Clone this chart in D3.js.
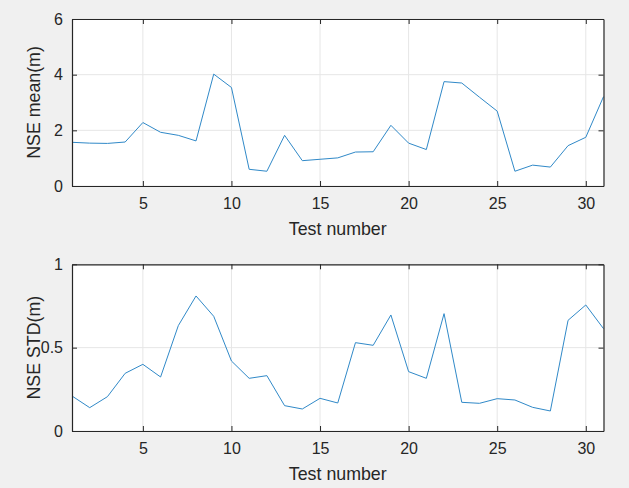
<!DOCTYPE html>
<html>
<head>
<meta charset="utf-8">
<script src="https://cdn.jsdelivr.net/npm/d3@7"></script>
<style>
  body { margin: 0; background: #f0f0f0; }
  svg { display: block; font-family: "Liberation Sans", Arial, sans-serif; }
</style>
</head>
<body>
<div id="chart"></div>
<script>
// Data
const testNumbers = d3.range(1, 32);
const nseMean = [1.57, 1.54, 1.53, 1.58, 2.28, 1.93, 1.82, 1.62, 4.02, 3.54,
                 0.60, 0.53, 1.82, 0.91, 0.96, 1.01, 1.22, 1.23, 2.18, 1.54,
                 1.31, 3.75, 3.70, 3.19, 2.69, 0.53, 0.75, 0.68, 1.45, 1.75, 3.21];
const nseStd = [0.21, 0.14, 0.206, 0.346, 0.40, 0.324, 0.632, 0.81, 0.688, 0.42,
                0.316, 0.332, 0.152, 0.132, 0.196, 0.168, 0.53, 0.514, 0.696, 0.356,
                0.316, 0.704, 0.172, 0.166, 0.194, 0.186, 0.142, 0.12, 0.664, 0.756, 0.614];
const xTicks = [5, 10, 15, 20, 25, 30];
const meanTicks = [0, 2, 4, 6];
const stdTicks = [0, 0.5, 1];

const width = 629;
const height = 488;

const svg = d3.select("#chart")
    .append("svg")
    .attr("width", width)
    .attr("height", height);

svg.append("rect")
    .attr("width", width)
    .attr("height", height)
    .attr("fill", "#f0f0f0");

// one subplot panel
function drawPanel(values, yDomain, yTicks, yLabel, top, bottom) {
    const left = 72, right = 603.5;

    const x = d3.scaleLinear().domain([1, 31]).range([left, right]);
    const y = d3.scaleLinear().domain(yDomain).range([bottom, top]);

    const g = svg.append("g");

    g.append("rect")
        .attr("x", left)
        .attr("y", top)
        .attr("width", right - left)
        .attr("height", bottom - top)
        .attr("fill", "#fff");

    // grid lines
    g.append("g")
        .selectAll("line")
        .data(xTicks)
        .enter().append("line")
        .attr("x1", d => x(d)).attr("x2", d => x(d))
        .attr("y1", top).attr("y2", bottom)
        .attr("stroke", "#e6e6e6");
    g.append("g")
        .selectAll("line")
        .data(yTicks)
        .enter().append("line")
        .attr("x1", left).attr("x2", right)
        .attr("y1", d => y(d)).attr("y2", d => y(d))
        .attr("stroke", "#e6e6e6");

    // data line
    const line = d3.line()
        .x((d, i) => x(testNumbers[i]))
        .y(d => y(d));
    g.append("path")
        .datum(values)
        .attr("d", line)
        .attr("fill", "none")
        .attr("stroke", "#3089c8")
        .attr("stroke-width", 1);

    // axes, ticks inward like MATLAB
    const tick = 5;
    const xAxisB = d3.axisBottom(x).tickValues(xTicks).tickSize(-tick).tickSizeOuter(0).tickPadding(12);
    const xAxisT = d3.axisTop(x).tickValues(xTicks).tickSize(-tick).tickSizeOuter(0).tickFormat("");
    const yAxisL = d3.axisLeft(y).tickValues(yTicks).tickSize(-tick).tickSizeOuter(0).tickPadding(9)
        .tickFormat(d3.format("~g"));
    const yAxisR = d3.axisRight(y).tickValues(yTicks).tickSize(-tick).tickSizeOuter(0).tickFormat("");

    const axes = [
        [xAxisB, `translate(0,${bottom})`],
        [xAxisT, `translate(0,${top})`],
        [yAxisL, `translate(${left},0)`],
        [yAxisR, `translate(${right},0)`]
    ];
    axes.forEach(([ax, tr]) => {
        const a = g.append("g").attr("transform", tr).call(ax);
        a.attr("font-size", null).attr("font-family", null);
        a.select(".domain").attr("stroke", "#262626").attr("stroke-width", 1.2);
        a.selectAll(".tick line").attr("stroke", "#262626");
        a.selectAll(".tick text")
            .attr("fill", "#262626")
            .style("font-size", "16px");
    });

    // x label
    g.append("text")
        .attr("x", (left + right) / 2)
        .attr("y", bottom + 49)
        .style("text-anchor", "middle")
        .style("font-size", "17.8px")
        .attr("fill", "#262626")
        .text("Test number");

    // y label
    g.append("text")
        .attr("transform", `translate(40,${(top + bottom) / 2}) rotate(-90)`)
        .style("text-anchor", "middle")
        .style("font-size", "17.8px")
        .attr("fill", "#262626")
        .text(yLabel);
}

drawPanel(nseMean, [0, 6], meanTicks, "NSE mean(m)", 19, 186);
drawPanel(nseStd, [0, 1], stdTicks, "NSE STD(m)", 264.3, 431);
</script>
</body>
</html>
